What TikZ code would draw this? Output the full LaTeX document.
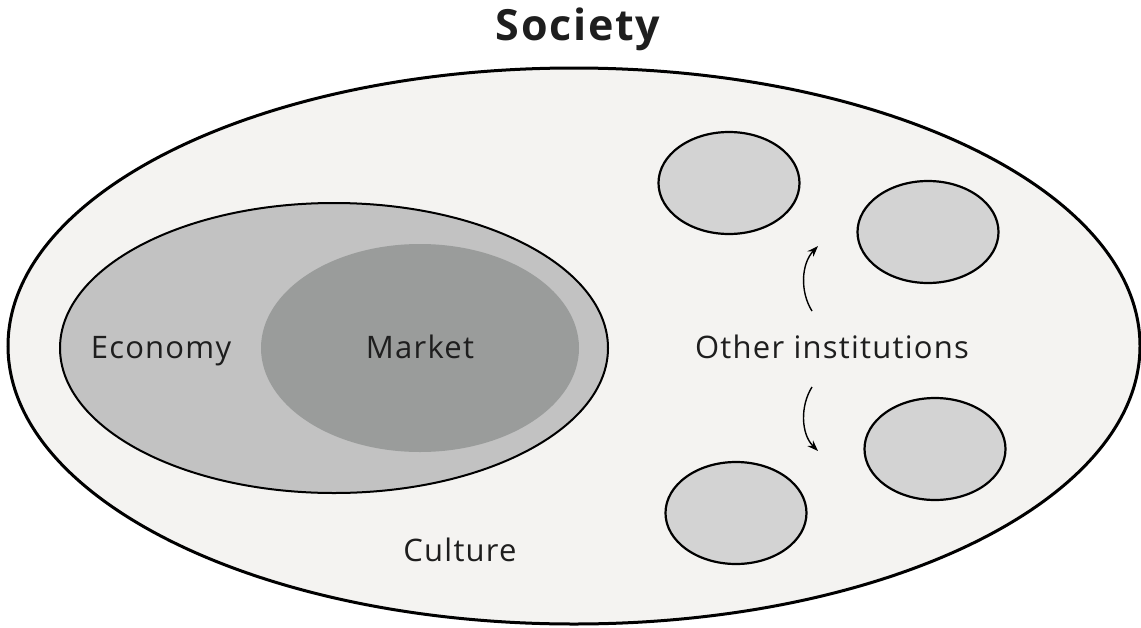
\documentclass[tikz,border=0pt]{standalone}
\usepackage{fontspec}
\setmainfont{Open Sans}
\usetikzlibrary{shapes.geometric,arrows.meta}
\definecolor{socfill}{HTML}{F4F3F1}
\definecolor{ecofill}{HTML}{C2C2C2}
\definecolor{mktfill}{HTML}{9A9C9B}
\definecolor{instfill}{HTML}{D3D3D3}
\definecolor{txt}{HTML}{1E1E1E}
\tikzset{
  blob/.style={ellipse, inner sep=0pt, outer sep=0pt},
  inst/.style={blob, draw=black, line width=2.2pt, fill=instfill, minimum width=141pt, minimum height=102pt},
  lbl/.style={font=\fontsize{31}{31}\selectfont\addfontfeatures{LetterSpace=4}, text=txt, inner sep=0pt},
  swing/.style={-{Stealth[length=11pt,width=8pt]}, line width=1.4pt, black}
}
\begin{document}
\begin{tikzpicture}[x=1pt,y=-1pt]
\useasboundingbox[fill=white] (0,0) rectangle (1141,627);
\node[blob, draw=black, line width=3pt, fill=socfill, minimum width=1132pt, minimum height=556pt] (society) at (574,346) {};
\node[blob, draw=black, line width=2pt, fill=ecofill, minimum width=548pt, minimum height=290pt] (economy) at (334,348) {};
\node[blob, fill=mktfill, minimum width=318pt, minimum height=208pt] (market) at (420,348) {};
\node[inst] (i1) at (729,183) {};
\node[inst] (i2) at (928,232) {};
\node[inst] (i3) at (935,449) {};
\node[inst] (i4) at (736,513) {};
\node[font=\fontsize{43}{43}\selectfont\bfseries\addfontfeatures{LetterSpace=4}, text=txt, inner sep=0pt, anchor=base] (title) at (578,40) {Society};
\node[lbl, anchor=base] (econlbl) at (161,358) {Economy};
\node[lbl, anchor=base] (mktlbl) at (420,358) {Market};
\node[lbl, anchor=base] (other) at (832,358) {Other institutions};
\node[lbl, anchor=base] (culture) at (460,561) {Culture};
\coordinate (a1s) at (812,311);
\coordinate (a1e) at (818,246);
\coordinate (a2s) at (812,387);
\coordinate (a2e) at (818,451);
\draw[swing] (a1s) .. controls (800,292) and (801,264) .. (a1e);
\draw[swing] (a2s) .. controls (800,406) and (801,434) .. (a2e);
\end{tikzpicture}
\end{document}
